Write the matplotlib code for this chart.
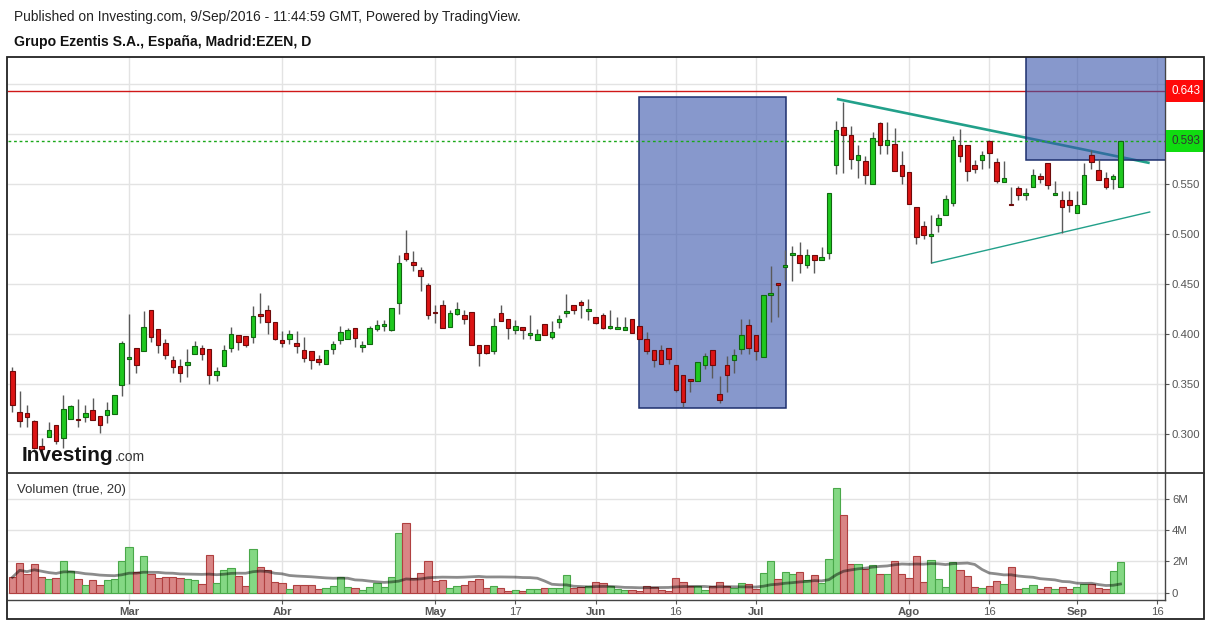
import matplotlib
matplotlib.use('Agg')
import matplotlib.pyplot as plt
import numpy as np
import pandas as pd
from matplotlib.patches import Rectangle
from matplotlib.lines import Line2D

plt.rcParams['font.family'] = ['Liberation Sans', 'DejaVu Sans']

# ---------------- data ----------------
start_date = '2016-02-08'
holidays = ['2016-03-25', '2016-03-28']

opens = [0.363, 0.322, 0.321, 0.313, 0.288, 0.297, 0.309, 0.296, 0.315, 0.315,
         0.317, 0.324, 0.318, 0.319, 0.320, 0.349, 0.376, 0.386, 0.383, 0.424,
         0.405, 0.391, 0.374, 0.368, 0.369, 0.380, 0.386, 0.385, 0.359, 0.368,
         0.386, 0.399, 0.398, 0.397, 0.420, 0.424, 0.412, 0.394, 0.395, 0.391,
         0.384, 0.383, 0.375, 0.370, 0.385, 0.394, 0.395, 0.406, 0.388, 0.390,
         0.405, 0.409, 0.404, 0.431, 0.481, 0.472, 0.464, 0.449, 0.422, 0.429,
         0.407, 0.420, 0.419, 0.422, 0.389, 0.389, 0.383, 0.421, 0.415, 0.404,
         0.407, 0.400, 0.394, 0.410, 0.397, 0.412, 0.422, 0.429, 0.432, 0.424,
         0.417, 0.419, 0.407, 0.405, 0.404, 0.415, 0.408, 0.395, 0.384, 0.384,
         0.386, 0.369, 0.359, 0.355, 0.353, 0.369, 0.384, 0.340, 0.369, 0.374,
         0.385, 0.409, 0.399, 0.377, 0.440, 0.451, 0.468, 0.479, 0.479, 0.469,
         0.479, 0.474, 0.481, 0.569, 0.607, 0.599, 0.574, 0.573, 0.550, 0.611,
         0.589, 0.590, 0.569, 0.562, 0.527, 0.508, 0.499, 0.509, 0.519, 0.531,
         0.589, 0.589, 0.569, 0.574, 0.593, 0.572, 0.552, 0.530, 0.546, 0.540,
         0.547, 0.558, 0.571, 0.540, 0.534, 0.534, 0.521, 0.530, 0.579, 0.564,
         0.556, 0.555, 0.547]
highs = [0.367, 0.343, 0.329, 0.314, 0.296, 0.312, 0.309, 0.339, 0.329, 0.335,
         0.329, 0.336, 0.318, 0.332, 0.339, 0.393, 0.420, 0.386, 0.423, 0.424,
         0.405, 0.395, 0.378, 0.375, 0.385, 0.393, 0.389, 0.385, 0.367, 0.389,
         0.407, 0.399, 0.398, 0.428, 0.441, 0.429, 0.412, 0.403, 0.404, 0.403,
         0.397, 0.383, 0.379, 0.384, 0.393, 0.408, 0.406, 0.406, 0.393, 0.408,
         0.414, 0.414, 0.426, 0.479, 0.504, 0.483, 0.467, 0.451, 0.429, 0.434,
         0.424, 0.432, 0.424, 0.422, 0.389, 0.389, 0.416, 0.429, 0.415, 0.414,
         0.407, 0.419, 0.405, 0.410, 0.413, 0.419, 0.440, 0.429, 0.434, 0.435,
         0.417, 0.421, 0.424, 0.417, 0.417, 0.415, 0.408, 0.402, 0.384, 0.389,
         0.386, 0.369, 0.359, 0.355, 0.372, 0.381, 0.384, 0.358, 0.378, 0.385,
         0.415, 0.415, 0.399, 0.439, 0.468, 0.451, 0.484, 0.488, 0.492, 0.485,
         0.479, 0.487, 0.541, 0.613, 0.632, 0.608, 0.589, 0.578, 0.602, 0.612,
         0.612, 0.606, 0.583, 0.562, 0.527, 0.513, 0.519, 0.520, 0.539, 0.598,
         0.605, 0.589, 0.574, 0.583, 0.594, 0.576, 0.573, 0.547, 0.548, 0.546,
         0.565, 0.561, 0.571, 0.553, 0.543, 0.543, 0.543, 0.571, 0.584, 0.575,
         0.562, 0.560, 0.593]
lows = [0.322, 0.307, 0.307, 0.285, 0.283, 0.297, 0.290, 0.286, 0.315, 0.307,
        0.312, 0.314, 0.301, 0.311, 0.320, 0.338, 0.350, 0.361, 0.383, 0.392,
        0.381, 0.375, 0.361, 0.352, 0.357, 0.380, 0.374, 0.350, 0.353, 0.368,
        0.382, 0.384, 0.387, 0.391, 0.411, 0.400, 0.394, 0.387, 0.390, 0.381,
        0.372, 0.365, 0.369, 0.370, 0.380, 0.390, 0.395, 0.387, 0.382, 0.390,
        0.403, 0.403, 0.403, 0.420, 0.473, 0.463, 0.443, 0.415, 0.411, 0.406,
        0.407, 0.419, 0.410, 0.389, 0.368, 0.380, 0.380, 0.413, 0.395, 0.400,
        0.395, 0.395, 0.394, 0.399, 0.395, 0.406, 0.417, 0.420, 0.416, 0.414,
        0.410, 0.405, 0.405, 0.405, 0.404, 0.401, 0.395, 0.380, 0.367, 0.370,
        0.370, 0.342, 0.327, 0.342, 0.353, 0.365, 0.356, 0.331, 0.342, 0.361,
        0.380, 0.380, 0.374, 0.377, 0.412, 0.417, 0.454, 0.453, 0.461, 0.466,
        0.461, 0.474, 0.475, 0.560, 0.561, 0.565, 0.556, 0.550, 0.550, 0.580,
        0.580, 0.563, 0.550, 0.530, 0.490, 0.495, 0.471, 0.502, 0.519, 0.528,
        0.572, 0.553, 0.561, 0.565, 0.566, 0.551, 0.552, 0.529, 0.534, 0.534,
        0.547, 0.551, 0.545, 0.539, 0.501, 0.522, 0.521, 0.530, 0.565, 0.554,
        0.545, 0.545, 0.547]
closes = [0.329, 0.313, 0.317, 0.286, 0.285, 0.304, 0.293, 0.325, 0.328, 0.314,
          0.321, 0.314, 0.309, 0.324, 0.339, 0.391, 0.376, 0.369, 0.407, 0.397,
          0.389, 0.379, 0.367, 0.361, 0.372, 0.388, 0.380, 0.359, 0.363, 0.384,
          0.400, 0.392, 0.389, 0.418, 0.418, 0.412, 0.395, 0.391, 0.400, 0.388,
          0.376, 0.374, 0.372, 0.384, 0.390, 0.402, 0.404, 0.396, 0.388, 0.406,
          0.409, 0.409, 0.426, 0.471, 0.475, 0.469, 0.458, 0.419, 0.421, 0.406,
          0.421, 0.425, 0.415, 0.389, 0.381, 0.381, 0.408, 0.413, 0.406, 0.408,
          0.404, 0.400, 0.400, 0.399, 0.402, 0.415, 0.422, 0.424, 0.429, 0.424,
          0.411, 0.406, 0.407, 0.407, 0.407, 0.401, 0.395, 0.383, 0.374, 0.370,
          0.375, 0.344, 0.332, 0.353, 0.372, 0.378, 0.369, 0.334, 0.359, 0.379,
          0.399, 0.386, 0.383, 0.439, 0.440, 0.449, 0.468, 0.481, 0.471, 0.479,
          0.474, 0.477, 0.541, 0.604, 0.599, 0.575, 0.579, 0.559, 0.596, 0.589,
          0.594, 0.563, 0.558, 0.530, 0.497, 0.499, 0.499, 0.516, 0.535, 0.594,
          0.578, 0.563, 0.565, 0.579, 0.581, 0.553, 0.556, 0.529, 0.539, 0.540,
          0.559, 0.555, 0.549, 0.540, 0.527, 0.529, 0.529, 0.559, 0.572, 0.554,
          0.547, 0.558, 0.593]
volumes_m = [0.98, 1.87, 1.17, 1.81, 1.00, 0.85, 0.91, 2.02, 1.38, 0.85,
             0.47, 0.79, 0.47, 0.79, 0.85, 2.02, 2.89, 1.32, 2.32, 1.17,
             0.94, 0.98, 0.98, 0.91, 0.85, 0.79, 0.53, 2.38, 0.60, 1.45,
             1.55, 1.04, 0.40, 2.77, 1.66, 1.45, 0.66, 0.60, 0.21, 0.47,
             0.47, 0.47, 0.21, 0.28, 0.40, 0.98, 0.34, 0.28, 0.15, 0.34,
             0.60, 0.34, 0.98, 3.79, 4.45, 0.95, 1.25, 2.02, 0.72, 0.79,
             0.28, 0.40, 0.47, 0.72, 0.85, 0.28, 0.40, 0.28, 0.09, 0.15,
             0.09, 0.21, 0.21, 0.28, 0.28, 0.28, 1.10, 0.28, 0.34, 0.40,
             0.66, 0.60, 0.40, 0.21, 0.15, 0.15, 0.09, 0.40, 0.34, 0.15,
             0.09, 0.91, 0.66, 0.40, 0.40, 0.15, 0.40, 0.66, 0.40, 0.28,
             0.60, 0.53, 0.21, 1.23, 2.02, 0.85, 1.30, 1.17, 1.30, 0.79,
             1.10, 0.60, 2.13, 6.66, 4.96, 1.81, 1.81, 1.51, 1.79, 1.17,
             1.17, 2.02, 1.17, 0.91, 2.32, 0.66, 2.09, 0.85, 0.34, 1.94,
             1.43, 1.04, 0.34, 0.28, 0.40, 0.72, 0.53, 1.62, 0.21, 0.28,
             0.47, 0.21, 0.34, 0.21, 0.34, 0.21, 0.34, 0.53, 0.53, 0.28,
             0.21, 1.36, 1.94]

date_ticks = [('Mar', '2016-03-01', True), ('Abr', '2016-04-01', True),
              ('May', '2016-05-02', True), ('17', '2016-05-17', False),
              ('Jun', '2016-06-01', True), ('16', '2016-06-16', False),
              ('Jul', '2016-07-01', True), ('Ago', '2016-08-01', True),
              ('16', '2016-08-16', False), ('Sep', '2016-09-01', True),
              ('16', '2016-09-16', False)]
price_ticks = [0.30, 0.35, 0.40, 0.45, 0.50, 0.55, 0.60, 0.65]
volume_ticks = [0, 2, 4, 6]
volume_tick_labels = ['0', '2M', '4M', '6M']

red_level = 0.643
last_price = 0.593
upper_trend_x = [113.1, 156.0]
upper_trend_y = [0.635, 0.571]
lower_trend_x = [126.1, 156.0]
lower_trend_y = [0.471, 0.522]
zone1 = (86.0, 106.1, 0.3257, 0.6367)   # x0, x1, y0, y1
zone2 = (139.0, 160.0, 0.574, 0.700)

# ---------------- figure ----------------
W, H = 1211, 624
fig = plt.figure(figsize=(W / 100, H / 100), dpi=100)
fig.patch.set_facecolor('white')

def fx(px):
    return px / W

def fy(py):
    return 1 - py / H

ax1 = fig.add_axes([fx(8), fy(472), fx(1165) - fx(8), fy(57) - fy(472)])
ax2 = fig.add_axes([fx(8), fy(600), fx(1165) - fx(8), fy(473) - fy(600)])

opens_a = np.array(opens)
highs_a = np.array(highs)
lows_a = np.array(lows)
closes_a = np.array(closes)
vol_a = np.array(volumes_m)
n = len(opens_a)
x = np.arange(n)

days = pd.bdate_range(start_date, '2016-09-30')
days = days[~days.isin(pd.to_datetime(holidays))]
tick_pos = [days.get_loc(pd.Timestamp(d)) for _, d, _ in date_ticks]
tick_lab = [l for l, _, _ in date_ticks]
tick_bold = [b for _, _, b in date_ticks]

xlim = (-0.6, 158.1)

# ----- price panel -----
up = closes_a >= opens_a
diff = np.abs(closes_a - opens_a)
min_h = 0.0013
body_h = np.maximum(diff, min_h)
body_lo = np.where(diff < min_h, (opens_a + closes_a) / 2 - min_h / 2,
                   np.minimum(opens_a, closes_a))
ax1.vlines(x, lows_a, highs_a, color='#5a5a5a', lw=1.0, zorder=5)
ax1.bar(x, body_h, bottom=body_lo, width=0.62,
        color=np.where(up, '#1fc81f', '#dc1414'),
        edgecolor=np.where(up, '#106810', '#6e0a0a'), linewidth=0.8, zorder=6)

ax1.axhline(red_level, color='#d01818', lw=1.0, zorder=3)
ax1.axhline(last_price, color='#1aa81a', lw=1.0, ls=(0, (2, 2)), zorder=4.8)

ax1.plot(upper_trend_x, upper_trend_y, color='#22a08a', lw=1.9, zorder=3.5,
         solid_capstyle='butt')
ax1.plot(lower_trend_x, lower_trend_y, color='#22a08a', lw=1.0, zorder=3.5)

for (x0, x1, y0, y1) in (zone1, zone2):
    ax1.add_patch(Rectangle((x0, y0), x1 - x0, y1 - y0,
                            facecolor=(0.22, 0.33, 0.67, 0.6),
                            edgecolor='#1c2f6e', lw=1.1, zorder=4.5))

ax1.set_xlim(*xlim)
ax1.set_ylim(0.262, 0.677)
ax1.set_xticks(tick_pos)
ax1.tick_params(axis='x', length=0, labelbottom=False)
ax1.yaxis.tick_right()
ax1.set_yticks(price_ticks)
ax1.set_yticklabels(['%.3f' % v if v < 0.64 else '' for v in price_ticks])
ax1.tick_params(axis='y', direction='out', length=3, width=0.8, color='#555555',
                labelsize=8.2, labelcolor='#555555', pad=2)
ax1.grid(True, color='#e3e3e3', lw=1.0)
ax1.set_axisbelow(True)
for s in ('left', 'top', 'bottom'):
    ax1.spines[s].set_visible(False)
ax1.spines['right'].set_color('#444444')
ax1.spines['right'].set_linewidth(1.0)

ax1.annotate('%.3f' % red_level, xy=(1, red_level),
             xycoords=('axes fraction', 'data'), xytext=(6, 0),
             textcoords='offset pixels', ha='left', va='center',
             fontsize=8.4, color='white', zorder=10, annotation_clip=False,
             bbox=dict(boxstyle='square,pad=0.4', fc='#ff0a0a', ec='none'))
ax1.annotate('%.3f' % last_price, xy=(1, last_price),
             xycoords=('axes fraction', 'data'), xytext=(6, 0),
             textcoords='offset pixels', ha='left', va='center',
             fontsize=8.4, color='#333333', zorder=10, annotation_clip=False,
             bbox=dict(boxstyle='square,pad=0.4', fc='#10dc10', ec='none'))

# ----- volume panel -----
ax2.bar(x, vol_a, width=1.0,
        color=np.where(up, '#84d884', '#d98585'),
        edgecolor=np.where(up, '#4aa84a', '#b04040'), linewidth=0.8, zorder=3)
vol_ma = pd.Series(vol_a).rolling(20, min_periods=1).mean().values
ax2.plot(x, vol_ma, color='black', alpha=0.45, lw=2.0, zorder=4)
ax2.set_xlim(*xlim)
ax2.set_ylim(-0.47, 7.64)
ax2.set_xticks(tick_pos)
ax2.set_xticklabels(tick_lab)
for lbl, b in zip(ax2.get_xticklabels(), tick_bold):
    lbl.set_fontweight('bold' if b else 'normal')
ax2.tick_params(axis='x', direction='out', length=3, width=0.8, color='#555555',
                labelsize=8.2, labelcolor='#555555', pad=2)
ax2.yaxis.tick_right()
ax2.set_yticks(volume_ticks)
ax2.set_yticklabels(volume_tick_labels)
ax2.tick_params(axis='y', direction='out', length=3, width=0.8, color='#555555',
                labelsize=8.2, labelcolor='#555555', pad=2)
ax2.grid(True, color='#e3e3e3', lw=1.0)
ax2.set_axisbelow(True)
for s in ('left', 'top'):
    ax2.spines[s].set_visible(False)
for s in ('right', 'bottom'):
    ax2.spines[s].set_color('#444444')
    ax2.spines[s].set_linewidth(1.0)

# ----- frame -----
fig.add_artist(Rectangle((fx(7), fy(619)), fx(1204) - fx(7), fy(57) - fy(619),
                         transform=fig.transFigure, fill=False,
                         edgecolor='#222222', lw=1.3, zorder=20))
fig.add_artist(Line2D([fx(7), fx(1204)], [fy(472.5), fy(472.5)],
                      transform=fig.transFigure, color='#333333', lw=1.3,
                      zorder=20))

# ----- texts -----
fig.text(fx(14), fy(17),
         'Published on Investing.com, 9/Sep/2016 - 11:44:59 GMT, Powered by TradingView.',
         fontsize=9.9, va='center', ha='left', color='#222222')
fig.text(fx(14), fy(42), 'Grupo Ezentis S.A., España, Madrid:EZEN, D',
         fontsize=10.1, fontweight='bold', va='center', ha='left', color='#111111')
fig.text(fx(17), fy(490), 'Volumen (true, 20)', fontsize=9.5, va='center',
         ha='left', color='#333333')

logo = fig.text(fx(22), fy(461), 'Investing', fontsize=15, fontweight='bold',
                va='baseline', ha='left', color='#141414', zorder=12)
fig.canvas.draw()
bb = logo.get_window_extent()
fig.text(bb.x1 / W + fx(1), fy(461), '.com', fontsize=10, va='baseline',
         ha='left', color='#333333', zorder=12)

fig.savefig('out.png', dpi=100, facecolor='white')
